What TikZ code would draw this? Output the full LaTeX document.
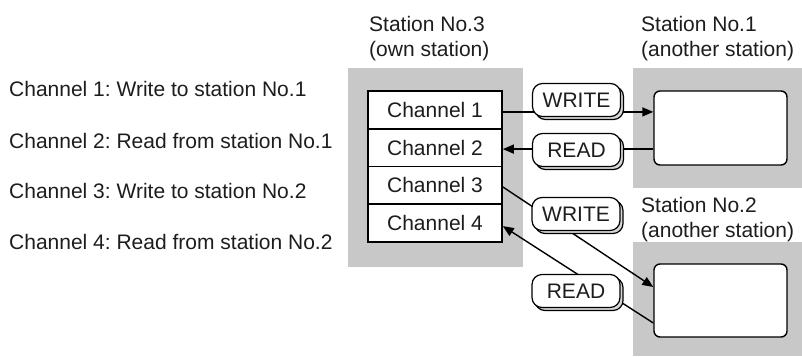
\documentclass[tikz,border=0pt]{standalone}
\usepackage{fontspec}
\setmainfont{Liberation Sans}
\usetikzlibrary{arrows.meta,shadows}
\definecolor{bggray}{RGB}{200,200,200}
\definecolor{txt}{RGB}{30,28,28}
\definecolor{shade}{RGB}{215,215,215}
\tikzset{
  plain/.style={inner sep=0pt, anchor=base west, text=txt},
  chbox/.style={draw=black, fill=white, line width=1.6pt, minimum width=134pt, minimum height=37.75pt, inner sep=0pt, text=txt},
  stbox/.style={draw=black, fill=white, line width=1.4pt, rounded corners=6pt, minimum width=133pt, inner sep=0pt},
  pill/.style={draw=black, fill=white, line width=1.2pt, rounded corners=10pt, minimum width=88pt, minimum height=33pt, inner sep=0pt, text=txt,
    copy shadow={shadow xshift=3pt, shadow yshift=-3pt, fill=shade, draw=black, line width=1.2pt}},
  conn/.style={line width=1.4pt, draw=black},
  arr/.style={conn, -{Triangle[length=11pt,width=9pt]}}
}
\begin{document}
\frenchspacing
\begin{tikzpicture}[x=1pt,y=-1pt,font=\fontsize{21}{25}\selectfont]
\useasboundingbox (0,0) rectangle (802,356);
% gray station areas
\fill[bggray] (348,68) rectangle (523,267);
\fill[bggray] (633,68) rectangle (802,188);
\fill[bggray] (633,242) rectangle (802,356);
% left description
\node[plain] (d1) at (9,96.5) {Channel 1: Write to station No.1};
\node[plain] (d2) at (9,148) {Channel 2: Read from station No.1};
\node[plain] (d3) at (9,198.5) {Channel 3: Write to station No.2};
\node[plain] (d4) at (9,249) {Channel 4: Read from station No.2};
% station titles
\node[plain] (t3a) at (369,31.5) {Station No.3};
\node[plain] (t3b) at (369,56.5) {(own station)};
\node[plain] (t1a) at (641,31.5) {Station No.1};
\node[plain] (t1b) at (641,56.5) {(another station)};
\node[plain] (t2a) at (641,212) {Station No.2};
\node[plain] (t2b) at (641,237) {(another station)};
% channel boxes
\node[chbox] (ch1) at (435,109.9) {Channel 1};
\node[chbox] (ch2) at (435,147.6) {Channel 2};
\node[chbox] (ch3) at (435,185.4) {Channel 3};
\node[chbox] (ch4) at (435,223.1) {Channel 4};
% station boxes
\node[stbox, minimum height=74pt] (st1) at (720.5,128) {};
\node[stbox, minimum height=73pt] (st2) at (720.5,300.5) {};
% anchor points on edges
\coordinate (p1) at ([yshift=-2pt]ch1.east);
\coordinate (p2) at ([yshift=-1.5pt]ch2.east);
\coordinate (p3) at ([yshift=-1.5pt]ch3.east);
\coordinate (p4) at ([yshift=-3pt]ch4.east);
% connectors
\draw[arr] (p1) -- (p1 -| st1.west);
\draw[arr] (p2 -| st1.west) -- (p2);
\draw[arr] (p3) -- (st2.west |- 0,287);
\draw[arr] (st2.west |- 0,323) -- (p4);
% labels
\node[pill] (w1) at (576.5,100) {WRITE};
\node[pill] (r1) at (576.5,150) {READ};
\node[pill] (w2) at (576,214) {WRITE};
\node[pill] (r2) at (576,291) {READ};
\end{tikzpicture}
\end{document}
